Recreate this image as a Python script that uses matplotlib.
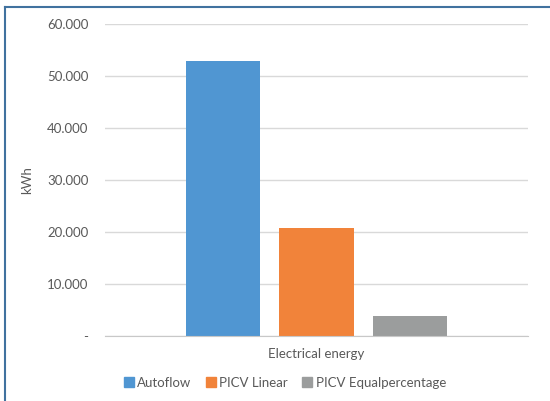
import matplotlib.pyplot as plt
from matplotlib.lines import Line2D
from matplotlib.ticker import FuncFormatter

# data
category = 'Electrical energy'
series = ['Autoflow', 'PICV Linear', 'PICV Equalpercentage']
values = [52850, 20780, 3900]
colors = ['#5096D2', '#F1833A', '#9B9D9D']
yticks = [0, 10000, 20000, 30000, 40000, 50000, 60000]

plt.rcParams['font.family'] = ['Lato', 'DejaVu Sans']

fig = plt.figure(figsize=(5.5, 4.01), dpi=100)
ax = fig.add_axes([105 / 550, 1 - 336 / 401, 423 / 550, 312 / 401])

offsets = [-0.221, 0.0, 0.221]
for name, val, col, off in zip(series, values, colors, offsets):
    ax.bar(off, val, width=0.175, color=col, label=name, zorder=3)

ax.set_xlim(-0.5, 0.5)
ax.set_ylim(0, 60000)
ax.set_yticks(yticks)


def fmt(v, pos):
    if v == 0:
        return '-'
    return f'{v:,.0f}'.replace(',', '.')


ax.yaxis.set_major_formatter(FuncFormatter(fmt))
ax.tick_params(axis='y', length=0, pad=12, labelsize=9.5, labelcolor='#595959')
ax.set_xticks([0])
ax.set_xticklabels([category])
ax.tick_params(axis='x', length=0, pad=9, labelsize=9.5, labelcolor='#595959')
ax.grid(axis='y', color='#D9D9D9', lw=1, zorder=0)
for s in ['top', 'right', 'left']:
    ax.spines[s].set_visible(False)
ax.spines['bottom'].set_color('#C8C8C8')
ax.spines['bottom'].set_zorder(4)

ax.set_ylabel('kWh', fontsize=9.5, color='#595959', labelpad=10)
ax.yaxis.set_label_coords(-0.17, 0.5)

handles = [Line2D([], [], marker='s', ls='', color=c, markersize=6.5) for c in colors]
fig.legend(handles, series, loc='center', bbox_to_anchor=(284 / 550, 1 - 383 / 401),
           ncol=3, frameon=False, fontsize=9.5, handletextpad=0.15,
           columnspacing=0.95, labelcolor='#595959', handlelength=1.0)

# chart border (only top and left visible in the crop)
fig.add_artist(Line2D([5 / 550, 5 / 550], [0, 1 - 7 / 401], color='#41729F', lw=1.5))
fig.add_artist(Line2D([5 / 550, 1], [1 - 7 / 401, 1 - 7 / 401], color='#41729F', lw=1.5))

fig.savefig('out.png', dpi=100)
